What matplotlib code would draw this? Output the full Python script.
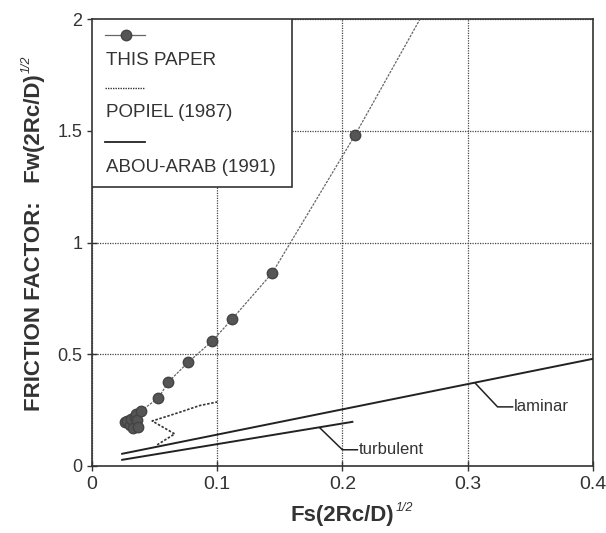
import numpy as np
import matplotlib
matplotlib.use("Agg")
import matplotlib.pyplot as plt
from matplotlib.lines import Line2D
from matplotlib.patches import Rectangle

plt.rcParams['font.family'] = ['Liberation Sans', 'DejaVu Sans']

# THIS PAPER - measured points
paper_x = [0.026, 0.028, 0.030, 0.031, 0.033, 0.034, 0.035, 0.036, 0.037,
           0.039, 0.053, 0.061, 0.077, 0.096, 0.112, 0.144, 0.210]
paper_y = [0.195, 0.200, 0.185, 0.210, 0.170, 0.220, 0.230, 0.205, 0.175,
           0.246, 0.304, 0.376, 0.465, 0.559, 0.658, 0.864, 1.480]
# continuation of the fitted line past the last point
paper_ext_x = [0.210, 0.262]
paper_ext_y = [1.480, 2.000]

# POPIEL (1987)
popiel_x = [0.052, 0.066, 0.048, 0.060, 0.070, 0.086, 0.100]
popiel_y = [0.094, 0.143, 0.201, 0.222, 0.240, 0.270, 0.286]

# ABOU-ARAB (1991)
laminar_x = [0.024, 0.400]
laminar_y = [0.054, 0.479]
turbulent_x = [0.024, 0.208]
turbulent_y = [0.027, 0.197]

xticks = [0, 0.1, 0.2, 0.3, 0.4]
xticklabels = ['0', '0.1', '0.2', '0.3', '0.4']
yticks = [0, 0.5, 1, 1.5, 2]
yticklabels = ['0', '0.5', '1', '1.5', '2']

fig = plt.figure(figsize=(6.06, 5.33), dpi=100)
ax = fig.add_axes([0.152, 0.126, 0.826, 0.838])

ax.set_xlim(0, 0.4)
ax.set_ylim(0, 2)
ax.set_xticks(xticks)
ax.set_xticklabels(xticklabels)
ax.set_yticks(yticks)
ax.set_yticklabels(yticklabels)
ax.tick_params(direction='inout', length=7, width=1, labelsize=13, colors='#333333')
ax.tick_params(axis='x', labelsize=14)
ax.grid(True, linestyle=(0, (1, 1)), color='#444444', linewidth=0.9)
for s in ax.spines.values():
    s.set_linewidth(1.2)
    s.set_color('#333333')

ax.plot(paper_x[9:], paper_y[9:], color='#666666', lw=0.9, ls=(0, (2, 1)), zorder=3)
ax.plot(paper_ext_x, paper_ext_y, color='#666666', lw=0.9, ls=(0, (2, 1)), zorder=3)
ax.plot(paper_x, paper_y, ls='none', marker='o', ms=7.5, color='#555555',
        markeredgecolor='#444444', zorder=4)
ax.plot(popiel_x, popiel_y, color='#333333', lw=1.2, ls=(0, (1.5, 1)), zorder=3)
ax.plot(laminar_x, laminar_y, color='#222222', lw=1.4, zorder=3)
ax.plot(turbulent_x, turbulent_y, color='#222222', lw=1.4, zorder=3)

# leader lines and labels
ax.plot([0.306, 0.324, 0.336], [0.371, 0.264, 0.264], color='#222222', lw=1.1)
ax.text(0.337, 0.264, 'laminar', fontsize=12, va='center', ha='left', color='#333333')
ax.plot([0.182, 0.200, 0.212], [0.170, 0.072, 0.072], color='#222222', lw=1.1)
ax.text(0.213, 0.072, 'turbulent', fontsize=12, va='center', ha='left', color='#333333')

# legend box drawn by hand (sample above label)
tr = ax.transAxes
ax.add_patch(Rectangle((0, 0.625), 0.40, 0.375, transform=tr, facecolor='white',
                       edgecolor='#333333', lw=1.2, zorder=6))
ax.add_line(Line2D([0.026, 0.106], [0.964, 0.964], transform=tr, color='#666666',
                   lw=0.9, zorder=7))
ax.add_line(Line2D([0.068], [0.964], transform=tr, ls='none', marker='o', ms=7.5,
                   color='#555555', markeredgecolor='#444444', zorder=7))
ax.text(0.028, 0.908, 'THIS PAPER', transform=tr, fontsize=13.5, va='center',
        color='#333333', zorder=7)
ax.add_line(Line2D([0.026, 0.106], [0.846, 0.846], transform=tr, color='#333333',
                   lw=1.0, ls=(0, (1, 0.8)), zorder=7))
ax.text(0.028, 0.790, 'POPIEL (1987)', transform=tr, fontsize=13.5, va='center',
        color='#333333', zorder=7)
ax.add_line(Line2D([0.026, 0.106], [0.725, 0.725], transform=tr, color='#222222',
                   lw=1.3, zorder=7))
ax.text(0.028, 0.669, 'ABOU-ARAB (1991)', transform=tr, fontsize=13.5, va='center',
        color='#333333', zorder=7)

ax.set_xlabel('Fs(2Rc/D)', fontsize=16, fontweight='bold', color='#333333', labelpad=9)
ax.set_ylabel('FRICTION FACTOR:   Fw(2Rc/D)', fontsize=16, fontweight='bold',
              color='#333333', labelpad=9)

# small "1/2" exponents next to the axis labels
fig.canvas.draw()
inv = fig.transFigure.inverted()
bx = ax.xaxis.label.get_window_extent()
x1, y1 = inv.transform((bx.x1 + 1, bx.y1 + 3))
fig.text(x1, y1, '1/2', fontsize=9, style='italic', color='#333333', ha='left', va='top')
by = ax.yaxis.label.get_window_extent()
x1, y1 = inv.transform((by.x0 - 3, by.y1 + 1))
fig.text(x1, y1, '1/2', fontsize=9, style='italic', color='#333333', rotation=90,
         ha='left', va='bottom')

fig.savefig('out.png', dpi=100)
